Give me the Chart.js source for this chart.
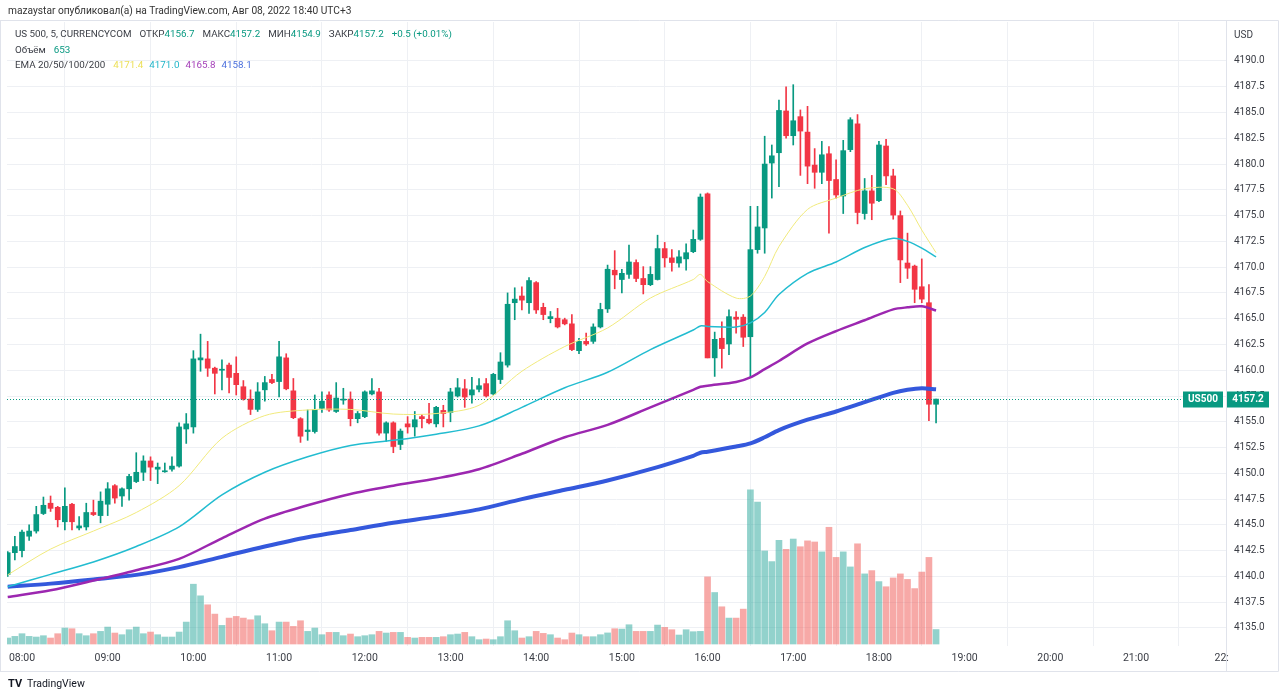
<!DOCTYPE html>
<html>
<head>
<meta charset="utf-8">
<script src="https://cdn.jsdelivr.net/npm/chart.js@4.4.1/dist/chart.umd.min.js"></script>
<style>
  html, body { margin: 0; padding: 0; background: #fff; }
  #wrap { position: relative; width: 1280px; height: 699px; }
</style>
</head>
<body>
<div id="wrap"><canvas id="chart"></canvas></div>
<script>
// 5-minute candles, first one is two bars before 08:00 (index 0 = 08:00)
const firstIndex = -2;
const opens = [4140.2,4142.3,4142.5,4143.9,4144.4,4146.1,4147.1,4146.7,4145.3,4147.0,4144.7,4144.8,4146.2,4145.9,4147.0,4148.8,4147.8,4148.5,4149.2,4150.1,
  4151.2,4150.4,4150.15,4150.4,4150.7,4154.3,4154.5,4161.0,4161.1,4160.2,4160.0,4160.5,4159.7,4158.4,4157.2,4156.2,4158.1,4159.1,4158.9,4161.2,
  4158.0,4155.3,4154.05,4154.05,4156.3,4157.6,4156.0,4157.1,4157.2,4155.3,4155.5,4157.7,4157.9,4153.9,4154.9,4152.8,4154.8,4154.5,4155.5,4155.25,
  4154.8,4156.1,4155.9,4157.5,4158.2,4157.6,4158.15,4158.7,4157.7,4159.1,4160.5,4166.55,4167.2,4166.55,4168.5,4166.1,4165.0,4165.05,4164.9,4164.5,
  4161.9,4162.8,4162.8,4164.2,4165.95,4169.7,4168.8,4169.3,4170.45,4168.9,4168.3,4168.8,4171.8,4170.9,4170.4,4170.8,4171.5,4172.7,4177.1,4161.2,
  4163.1,4162.55,4165.15,4165.15,4163.25,4171.7,4173.8,4180.1,4181.1,4185.15,4182.75,4184.6,4183.1,4179.9,4179.2,4181.0,4178.5,4176.9,4181.4,4183.9,
  4175.2,4177.4,4176.45,4181.75,4178.85,4175.0,4170.4,4170.1,4168.1,4166.55,4156.7];
const highs = [4142.4,4143.9,4144.5,4145.0,4146.8,4147.7,4147.8,4146.8,4148.6,4147.1,4145.8,4147.1,4147.4,4148.2,4149.1,4148.9,4148.6,4149.9,4152.0,4151.7,
  4151.6,4151.0,4151.0,4151.6,4154.9,4155.8,4161.9,4163.5,4162.8,4160.3,4161.0,4160.7,4161.3,4159.0,4158.1,4158.8,4159.4,4159.6,4162.8,4161.6,
  4159.2,4155.4,4156.15,4157.6,4157.9,4157.9,4158.8,4158.25,4157.9,4156.0,4158.0,4159.2,4158.25,4155.0,4155.0,4154.3,4155.5,4156.0,4155.7,4156.8,
  4156.5,4156.6,4158.25,4159.2,4159.1,4159.3,4159.2,4159.2,4159.7,4161.7,4167.5,4168.0,4168.1,4169.0,4168.6,4166.5,4165.7,4166.0,4165.05,4165.4,
  4163.1,4163.6,4164.5,4166.5,4170.2,4171.6,4169.8,4172.15,4170.7,4170.05,4170.05,4173.1,4172.4,4171.7,4171.6,4172.25,4173.6,4177.1,4177.2,4163.7,
  4164.7,4165.85,4165.7,4165.4,4175.9,4175.9,4182.7,4181.85,4186.2,4187.5,4187.7,4185.25,4185.6,4181.5,4182.2,4181.7,4180.4,4182.3,4184.5,4184.8,
  4178.6,4178.9,4182.2,4182.4,4179.5,4175.45,4173.3,4170.2,4170.8,4168.3,4157.2];
const lows = [4140.0,4141.6,4141.9,4143.5,4144.2,4146.0,4146.3,4144.8,4144.5,4144.5,4144.5,4144.5,4145.9,4145.2,4145.9,4147.1,4146.8,4147.4,4149.1,4149.3,
  4149.3,4149.0,4150.1,4150.2,4150.6,4152.9,4153.9,4159.9,4159.4,4157.7,4158.1,4157.8,4157.6,4157.1,4155.7,4156.0,4157.0,4158.7,4157.4,4158.1,
  4155.3,4153.0,4153.2,4153.9,4155.9,4156.0,4155.9,4156.7,4154.6,4154.9,4155.4,4157.6,4153.7,4153.1,4152.0,4152.3,4153.9,4153.6,4154.4,4154.8,
  4154.5,4154.5,4155.0,4157.4,4156.4,4156.8,4157.9,4157.4,4157.6,4158.7,4160.3,4164.9,4165.85,4165.5,4165.5,4164.9,4164.6,4164.1,4164.4,4161.9,
  4161.6,4162.4,4162.6,4164.1,4165.6,4167.9,4167.5,4168.9,4168.6,4167.4,4168.2,4168.75,4170.0,4169.6,4170.0,4169.7,4171.4,4172.6,4161.2,4159.4,
  4160.2,4161.5,4163.6,4162.3,4159.3,4171.35,4171.35,4176.7,4177.8,4182.5,4181.85,4178.9,4178.1,4177.65,4178.1,4173.3,4176.7,4175.2,4181.2,4174.2,
  4174.65,4174.6,4176.35,4178.0,4174.65,4168.5,4168.9,4166.55,4166.55,4155.1,4154.9];
const closes = [4142.3,4142.9,4144.3,4144.4,4146.0,4146.9,4146.6,4145.5,4146.8,4145.3,4144.9,4146.2,4146.0,4147.3,4148.5,4147.6,4148.5,4149.7,4150.1,4151.2,
  4150.6,4150.6,4150.25,4150.7,4154.5,4154.8,4161.1,4161.2,4160.2,4159.7,4160.1,4159.3,4158.6,4157.2,4156.2,4157.9,4158.8,4158.8,4161.3,4158.2,
  4155.4,4153.6,4154.2,4156.2,4157.0,4156.15,4157.3,4157.2,4155.3,4155.8,4157.9,4158.0,4153.9,4154.9,4152.6,4154.1,4154.5,4155.2,4155.3,4154.9,
  4156.4,4155.8,4157.9,4158.3,4157.4,4158.1,4158.5,4157.5,4159.6,4160.8,4166.4,4166.9,4166.8,4168.7,4165.85,4165.4,4165.2,4164.2,4164.5,4162.0,
  4162.8,4162.55,4164.2,4165.9,4169.8,4169.25,4169.4,4170.5,4168.9,4168.3,4169.3,4171.8,4170.9,4170.45,4171.0,4171.4,4172.7,4176.8,4161.2,4163.0,
  4162.1,4165.2,4164.95,4163.2,4171.7,4173.9,4180.0,4180.8,4185.2,4182.75,4184.2,4183.2,4179.8,4179.2,4180.9,4178.4,4177.0,4181.3,4184.3,4175.3,
  4177.4,4176.2,4181.85,4178.85,4175.05,4170.7,4169.9,4167.85,4166.9,4156.7,4157.2];
const volumes = [270,345,465,345,315,375,270,465,720,690,465,375,465,570,765,495,420,645,765,465,
  540,420,315,315,540,990,2700,2175,1770,1350,840,1170,1245,1170,1095,1275,915,600,990,990,
  795,1050,570,720,420,525,525,375,450,330,375,420,570,495,525,525,300,270,300,300,
  300,330,420,450,525,330,195,225,195,330,1050,600,270,330,570,480,420,270,195,495,
  420,330,330,420,500,690,675,870,570,570,570,855,750,645,405,645,555,570,3030,2325,
  1680,1170,1170,1575,6960,6405,4200,3720,4680,4275,4739,4391,4656,4606,4159,5269,3910,4159,3480,4524,
  3165,3314,2817,2585,2983,3165,2916,2502,3248,3910,653];

// EMA lines at these bar indices
const emaIdx = [-2,4,10,16,22,28,34,40,46,52,58,64,70,76,82,88,94,95,96,100,102,104,106,110,114,118,122,124,126,128];
const ema20 = [4140.15,4142.65,4144.4,4146.2,4148.8,4153.4,4155.6,4156.15,4156.2,4155.75,4155.8,4156.6,4159.9,4162.3,4164.1,4167.0,4168.8,4169.3,4168.6,4167.0,
  4167.2,4169.1,4172.0,4175.6,4176.7,4177.6,4177.6,4176.0,4173.6,4171.4];
const ema50 = [4139.0,4140.2,4141.4,4142.9,4144.8,4147.9,4150.1,4151.6,4152.7,4153.2,4153.8,4154.6,4156.4,4158.3,4159.8,4162.0,4163.9,4164.3,4164.25,4164.2,
  4164.6,4165.6,4167.35,4169.4,4170.5,4171.9,4172.8,4172.5,4171.85,4171.0];
const ema100 = [4138.0,4138.65,4139.6,4140.6,4141.7,4143.7,4145.6,4146.9,4148.0,4148.8,4149.5,4150.4,4151.9,4153.5,4154.7,4156.4,4158.1,4158.4,4158.5,4158.85,
  4159.3,4160.1,4160.9,4162.6,4163.8,4164.85,4165.9,4166.1,4166.2,4165.8];
const ema200 = [4139.0,4139.3,4139.7,4140.15,4140.9,4141.9,4142.9,4143.8,4144.5,4145.2,4145.8,4146.5,4147.5,4148.4,4149.3,4150.4,4151.7,4152.0,4152.1,4152.6,
  4152.9,4153.5,4154.2,4155.2,4156.0,4156.9,4157.8,4158.1,4158.25,4158.15];

// Axis ticks
const hourTicks = [0,12,24,36,48,60,72,84,96,108,120,132,144,156,168];
const hourLabels = ["08:00","09:00","10:00","11:00","12:00","13:00","14:00","15:00","16:00","17:00","18:00","19:00","20:00","21:00","22:"];
const priceTicks = [4135,4137.5,4140,4142.5,4145,4147.5,4150,4152.5,4155,4157.5,4160,4162.5,4165,4167.5,4170,4172.5,4175,4177.5,4180,4182.5,4185,4187.5,4190];

const UP = "#089981";
const DOWN = "#f23645";
const VOL_UP = "rgba(38,166,154,0.5)";
const VOL_DOWN = "rgba(239,83,80,0.5)";
const FONT = "Roboto";
const TEXT = "#3a3d45";

const idx = opens.map((_, k) => firstIndex + k);
const isUp = idx.map((_, k) => closes[k] >= opens[k]);
const lastClose = closes[closes.length - 1];

const emaPoints = (vals) => emaIdx.map((x, k) => ({ x: x, y: vals[k] }));

// Texts drawn on top of the chart
const overlay = {
  id: "overlay",
  afterDraw(chart) {
    const { ctx, chartArea } = chart;
    const yScale = chart.scales.y;
    ctx.save();

    // frame
    ctx.strokeStyle = "#e0e3eb";
    ctx.lineWidth = 1;
    ctx.beginPath();
    ctx.moveTo(0, 20.5); ctx.lineTo(1278.5, 20.5);
    ctx.moveTo(1278.5, 20.5); ctx.lineTo(1278.5, 671.5);
    ctx.moveTo(0, 671.5); ctx.lineTo(1278.5, 671.5);
    ctx.moveTo(0.5, 20.5); ctx.lineTo(0.5, 671.5);
    ctx.moveTo(chartArea.right + 0.5, 20.5); ctx.lineTo(chartArea.right + 0.5, 671.5);
    ctx.stroke();

    // header line
    ctx.textBaseline = "middle";
    ctx.textAlign = "left";
    ctx.fillStyle = "#333333";
    ctx.font = "10.2px " + FONT;
    ctx.fillText("mazaystar опубликовал(а) на TradingView.com, Авг 08, 2022 18:40 UTC+3", 8, 11);

    // legend rows
    const drawRow = (parts, x, y) => {
      ctx.font = "9.8px " + FONT;
      parts.forEach(([text, color, gap]) => {
        ctx.fillStyle = color;
        ctx.fillText(text, x, y);
        x += ctx.measureText(text).width + (gap || 0);
      });
    };
    drawRow([["US 500, 5, CURRENCYCOM", TEXT, 8], ["ОТКР", TEXT], ["4156.7", UP, 8], ["МАКС", TEXT], ["4157.2", UP, 8],
      ["МИН", TEXT], ["4154.9", UP, 8], ["ЗАКР", TEXT], ["4157.2", UP, 8], ["+0.5 (+0.01%)", UP]], 15, 35);
    drawRow([["Объём", TEXT, 8], ["653", UP]], 15, 51);
    drawRow([["EMA 20/50/100/200", TEXT, 8], ["4171.4", "#ece05a", 6], ["4171.0", "#22b5c8", 6],
      ["4165.8", "#a43fb8", 6], ["4158.1", "#4a6fdc"]], 15, 66);

    // currency label
    ctx.fillStyle = TEXT;
    ctx.font = "10px " + FONT;
    ctx.fillText("USD", chartArea.right + 8, 35);

    // last price line and labels
    const py = Math.round(yScale.getPixelForValue(lastClose)) + 0.5;
    ctx.strokeStyle = UP;
    ctx.setLineDash([1, 2]);
    ctx.beginPath();
    ctx.moveTo(chartArea.left, py);
    ctx.lineTo(1183, py);
    ctx.stroke();
    ctx.setLineDash([]);
    ctx.fillStyle = UP;
    ctx.fillRect(1183, py - 8, 40, 16);
    ctx.fillRect(chartArea.right + 1, py - 8, 42, 16);
    ctx.fillStyle = "#ffffff";
    ctx.font = "bold 10px " + FONT;
    ctx.textAlign = "center";
    ctx.fillText("US500", 1203, py);
    ctx.fillText(lastClose.toFixed(1), chartArea.right + 22, py);

    // footer logo
    ctx.textAlign = "left";
    ctx.fillStyle = "#131722";
    ctx.font = "bold 11px " + FONT;
    ctx.fillText("TV", 8, 684);
    ctx.font = "10.5px " + FONT;
    ctx.fillText("TradingView", 27, 684);
    ctx.restore();
  }
};

new Chart(document.getElementById("chart"), {
  type: "bar",
  data: {
    datasets: [
      { type: "line", label: "EMA 20", data: emaPoints(ema20), borderColor: "#f1ea7c", borderWidth: 1,
        pointRadius: 0, tension: 0.3, yAxisID: "y", order: 0 },
      { type: "line", label: "EMA 50", data: emaPoints(ema50), borderColor: "#22bcd0", borderWidth: 1.5,
        pointRadius: 0, tension: 0.3, yAxisID: "y", order: 1 },
      { type: "line", label: "EMA 100", data: emaPoints(ema100), borderColor: "#9c27b0", borderWidth: 2.5,
        pointRadius: 0, tension: 0.3, yAxisID: "y", order: 2 },
      { type: "line", label: "EMA 200", data: emaPoints(ema200), borderColor: "#3458dc", borderWidth: 4,
        pointRadius: 0, tension: 0.3, yAxisID: "y", order: 3 },
      { label: "bodies", data: idx.map((x, k) => ({ x: x, y: [opens[k], closes[k]] })),
        backgroundColor: isUp.map((u) => (u ? UP : DOWN)), barThickness: 5, minBarLength: 1,
        grouped: false, yAxisID: "y", order: 4 },
      { label: "wicks", data: idx.map((x, k) => ({ x: x, y: [lows[k], highs[k]] })),
        backgroundColor: isUp.map((u) => (u ? UP : DOWN)), barThickness: 1,
        grouped: false, yAxisID: "y", order: 5 },
      { label: "volume", data: idx.map((x, k) => ({ x: x, y: volumes[k] })),
        backgroundColor: isUp.map((u) => (u ? VOL_UP : VOL_DOWN)), barThickness: 6,
        grouped: false, yAxisID: "yv", order: 6 },
    ],
  },
  options: {
    responsive: true,
    maintainAspectRatio: false,
    animation: false,
    layout: { padding: { top: 22, left: 7, right: 0, bottom: 25 } },
    plugins: { legend: { display: false }, tooltip: { enabled: false } },
    scales: {
      x: {
        type: "linear",
        min: -2.1,
        max: 168.6,
        offset: false,
        grid: { color: "#eef0f4", drawTicks: false },
        border: { display: false },
        ticks: {
          autoSkip: false,
          maxRotation: 0,
          padding: 6,
          color: TEXT,
          font: { family: FONT, size: 10.5 },
          callback: (v) => hourLabels[hourTicks.indexOf(v)],
        },
        afterBuildTicks: (s) => { s.ticks = hourTicks.map((v) => ({ value: v })); },
        afterFit: (s) => { s.height = 28; },
      },
      y: {
        position: "right",
        min: 4133.25,
        max: 4193.78,
        grid: { color: "#eef0f4", drawTicks: false },
        border: { display: false },
        ticks: {
          padding: 8,
          color: TEXT,
          font: { family: FONT, size: 10 },
          callback: (v) => Number(v).toFixed(1),
        },
        afterBuildTicks: (s) => { s.ticks = priceTicks.map((v) => ({ value: v })); },
        afterFit: (s) => { s.width = 54; },
      },
      yv: { display: false, min: -90, max: 28080 },
    },
  },
  plugins: [overlay],
});
</script>
</body>
</html>
